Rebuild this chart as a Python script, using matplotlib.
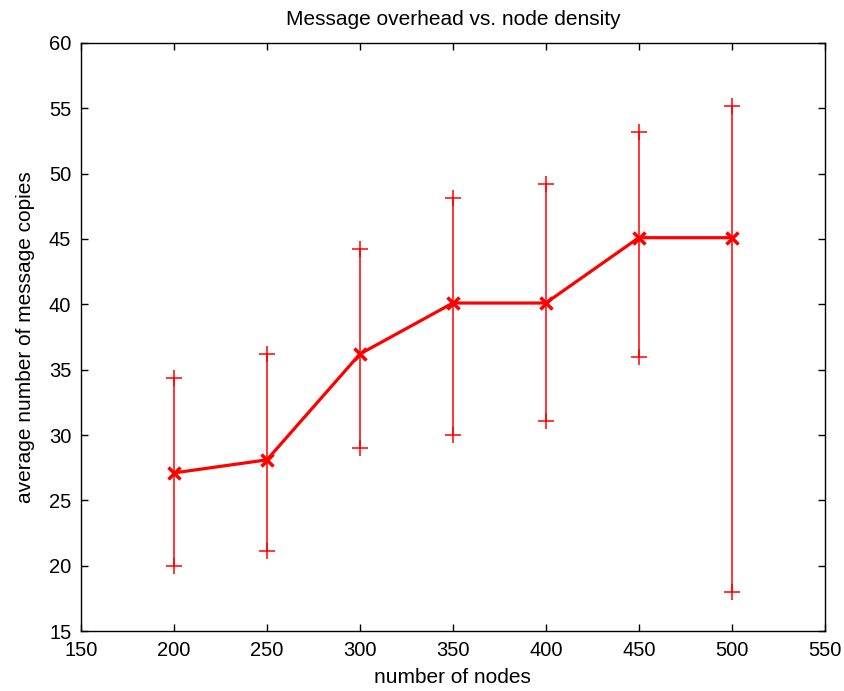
import matplotlib
matplotlib.use("Agg")
import matplotlib.pyplot as plt
from matplotlib import font_manager as fm

nodes = [200, 250, 300, 350, 400, 450, 500]
mean_copies = [27.1, 28.1, 36.2, 40.1, 40.1, 45.1, 45.1]
lower = [20.0, 21.1, 29.0, 30.0, 31.1, 36.0, 18.0]
upper = [34.4, 36.2, 44.2, 48.1, 49.2, 53.2, 55.2]
xticks = [150, 200, 250, 300, 350, 400, 450, 500, 550]
yticks = [15, 20, 25, 30, 35, 40, 45, 50, 55, 60]

names = {f.name for f in fm.fontManager.ttflist}
fam = [n for n in ["Liberation Sans"] if n in names] + ["DejaVu Sans"]
plt.rcParams['font.family'] = fam

fig = plt.figure(figsize=(8.45, 6.91), dpi=100)
ax = fig.add_axes([0.0959, 0.0868, 0.976 - 0.0959, 0.9378 - 0.0868])

for x, lo, hi in zip(nodes, lower, upper):
    ax.plot([x, x], [lo, hi], color='red', lw=1.1)
ax.plot(nodes, lower, linestyle='none', marker='+', color='red', ms=11.5, mew=1.1)
ax.plot(nodes, upper, linestyle='none', marker='+', color='red', ms=11.5, mew=1.1)
ax.plot(nodes, mean_copies, color='red', lw=2.3, marker='x', ms=9, mew=2.5)

ax.set_xlim(150, 550)
ax.set_ylim(15, 60)
ax.set_xticks(xticks)
ax.set_yticks(yticks)
ax.tick_params(direction='in', top=True, right=True, length=5, width=1,
               labelsize=14.5, colors='black')
ax.tick_params(axis='y', pad=7)
ax.tick_params(axis='x', pad=7)
for s in ax.spines.values():
    s.set_linewidth(1)
ax.set_title("Message overhead vs. node density", fontsize=15, pad=13)
ax.set_xlabel("number of nodes", fontsize=15, labelpad=6)
ax.set_ylabel("average number of message copies", fontsize=15, labelpad=10)

fig.savefig("out.png", dpi=100)
